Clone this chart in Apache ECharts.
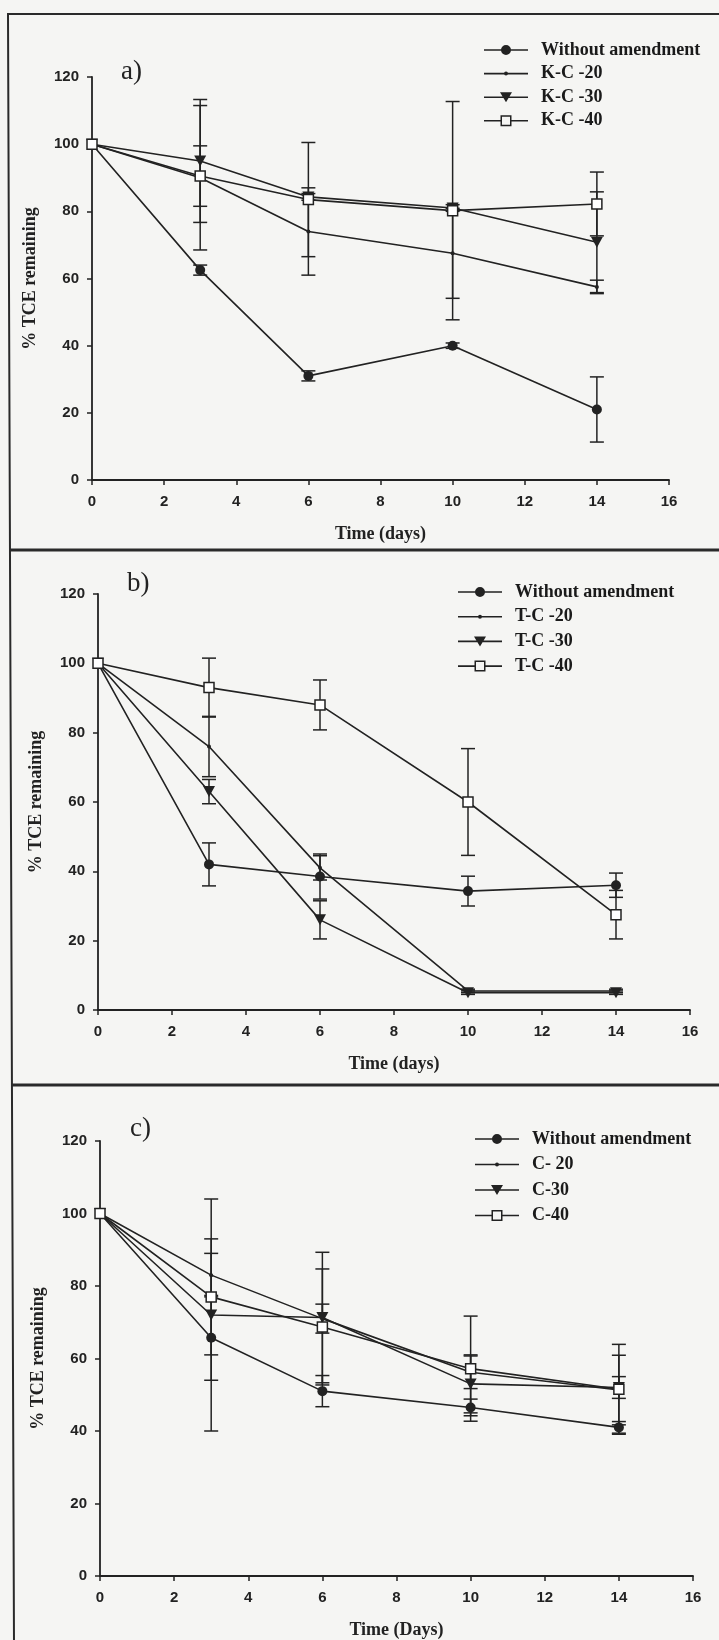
<!DOCTYPE html>
<html>
<head>
<meta charset="utf-8">
<script src="https://cdn.jsdelivr.net/npm/echarts@6/dist/echarts.min.js"></script>
<style>
  html, body { margin: 0; padding: 0; background: #f5f5f3; }
  #main { width: 719px; height: 1640px; }
</style>
</head>
<body>
<div id="main"></div>
<script>
// sampling days (x values)
var days = [0, 3, 6, 10, 14];

// legend names per panel
var namesA = ['Without amendment', 'K-C -20', 'K-C -30', 'K-C -40'];
var namesB = ['Without amendment', 'T-C -20', 'T-C -30', 'T-C -40'];
var namesC = ['Without amendment', 'C- 20', 'C-30', 'C-40'];

// panel a) % TCE remaining and error (+/-)
var aWithout = [100, 62.5, 31, 40, 21];
var aWithoutErr = [0, 1.5, 1.5, 0.8, 9.7];
var aKC20 = [100, 90, 74, 67.5, 57.5];
var aKC20Err = [0, 21.5, 13, 13.4, 2];
var aKC30 = [100, 95, 84.3, 81, 70.8];
var aKC30Err = [0, 18.3, 1, 1, 15];
var aKC40 = [100, 90.5, 83.5, 80.2, 82.2];
var aKC40Err = [0, 9, 17, 32.5, 9.5];

// panel b)
var bWithout = [100, 42, 38.5, 34.3, 36];
var bWithoutErr = [0, 6.2, 6.5, 4.3, 3.5];
var bTC20 = [100, 76, 41, 5.5, 5.5];
var bTC20Err = [0, 8.7, 3.5, 0.5, 0.5];
var bTC30 = [100, 63, 26, 5, 5];
var bTC30Err = [0, 3.5, 5.5, 0.5, 0.5];
var bTC40 = [100, 93, 88, 60, 27.5];
var bTC40Err = [0, 8.5, 7.2, 15.4, 7];

// panel c)
var cWithout = [100, 65.7, 51, 46.5, 41];
var cWithoutErr = [0, 11.7, 4.3, 2.3, 1.6];
var cC20 = [100, 83, 71, 56.2, 51.3];
var cC20Err = [0, 6, 4, 4.5, 9.6];
var cC30 = [100, 72, 71.3, 53, 52];
var cC30Err = [0, 32, 18, 8, 3];
var cC40 = [100, 77, 68.7, 57.2, 51.5];
var cC40Err = [0, 16, 16, 14.5, 12.4];

var xTicks = { min: 0, max: 16, interval: 2 };
var yTicks = { min: 0, max: 120, interval: 20 };

var INK = '#222';
var SERIF = '"Liberation Serif", "DejaVu Serif", serif';
var SANS = '"Liberation Sans", Arial, sans-serif';

// marker looks
var marks = {
  circle: { symbol: 'circle', symbolSize: 10, itemStyle: { color: INK } },
  dot: { symbol: 'circle', symbolSize: 4, itemStyle: { color: INK } },
  tri: { symbol: 'triangle', symbolSize: [12, 11], symbolRotate: 180, itemStyle: { color: INK } },
  square: { symbol: 'rect', symbolSize: 10, itemStyle: { color: '#fff', borderColor: INK, borderWidth: 1.5 } }
};

// legend icons: line + marker in a 44 x 12 box (all paths clockwise)
var box = 'M0 0 L0.01 0 L0 0.01 Z M44 12 L43.99 12 L44 11.99 Z ';
function seg(x1, x2) {
  return 'M' + x1 + ' 5.2 L' + x2 + ' 5.2 L' + x2 + ' 6.8 L' + x1 + ' 6.8 Z ';
}
var icons = {
  circle: 'path://' + box + seg(0, 17.5) + seg(26.5, 44) + 'M17 6 A5 5 0 1 1 27 6 A5 5 0 1 1 17 6 Z',
  dot: 'path://' + box + seg(0, 20.5) + seg(23.5, 44) + 'M20 6 A2 2 0 1 1 24 6 A2 2 0 1 1 20 6 Z',
  tri: 'path://' + box + seg(0, 19.8) + seg(24.2, 44) + 'M16 1 L28 1 L22 11 Z',
  square: 'path://' + box + seg(0, 16.5) + seg(27.5, 44) +
    'M16.5 0.5 L27.5 0.5 L27.5 11.5 L16.5 11.5 Z M18 2 L18 10 L26 10 L26 2 Z'
};
var markOrder = ['circle', 'dot', 'tri', 'square'];

var panels = [
  { names: namesA, vals: [aWithout, aKC20, aKC30, aKC40], errs: [aWithoutErr, aKC20Err, aKC30Err, aKC40Err],
    grid: { left: 92, top: 77, width: 577, height: 403 }, xName: 'Time (days)',
    legend: { left: 484, top: 40, itemGap: 3.6 } },
  { names: namesB, vals: [bWithout, bTC20, bTC30, bTC40], errs: [bWithoutErr, bTC20Err, bTC30Err, bTC40Err],
    grid: { left: 98, top: 594, width: 592, height: 416 }, xName: 'Time (days)',
    legend: { left: 458, top: 582, itemGap: 4.7 } },
  { names: namesC, vals: [cWithout, cC20, cC30, cC40], errs: [cWithoutErr, cC20Err, cC30Err, cC40Err],
    grid: { left: 100, top: 1141, width: 593, height: 435 }, xName: 'Time (Days)',
    legend: { left: 475, top: 1129, itemGap: 5.5 } }
];

function errorBars(idx, vals, errs) {
  var data = [];
  days.forEach(function (d, i) {
    if (errs[i] > 0) data.push([d, vals[i] - errs[i], vals[i] + errs[i]]);
  });
  return {
    type: 'custom',
    xAxisIndex: idx,
    yAxisIndex: idx,
    silent: true,
    z: 1,
    encode: { x: 0, y: [1, 2] },
    renderItem: function (params, api) {
      var lo = api.coord([api.value(0), api.value(1)]);
      var hi = api.coord([api.value(0), api.value(2)]);
      var w = 7;
      var st = { stroke: INK, lineWidth: 1.5 };
      return {
        type: 'group',
        children: [
          { type: 'line', shape: { x1: lo[0], y1: lo[1], x2: hi[0], y2: hi[1] }, style: st },
          { type: 'line', shape: { x1: lo[0] - w, y1: lo[1], x2: lo[0] + w, y2: lo[1] }, style: st },
          { type: 'line', shape: { x1: hi[0] - w, y1: hi[1], x2: hi[0] + w, y2: hi[1] }, style: st }
        ]
      };
    },
    data: data
  };
}

var grids = [], xAxes = [], yAxes = [], legends = [], series = [], graphics = [];

panels.forEach(function (p, idx) {
  grids.push(p.grid);
  xAxes.push({
    type: 'value', gridIndex: idx, min: xTicks.min, max: xTicks.max, interval: xTicks.interval,
    name: p.xName, nameLocation: 'middle', nameGap: 45,
    nameTextStyle: { fontFamily: SERIF, fontSize: 18, fontWeight: 'bold', color: INK },
    axisLine: { show: true, onZero: false, lineStyle: { color: INK, width: 1.8 } },
    axisTick: { show: true, inside: false, length: 5, lineStyle: { color: INK, width: 1.5 } },
    axisLabel: { margin: 14, fontFamily: SANS, fontSize: 15, fontWeight: 'bold', color: INK },
    splitLine: { show: false }
  });
  yAxes.push({
    type: 'value', gridIndex: idx, min: yTicks.min, max: yTicks.max, interval: yTicks.interval,
    name: '% TCE remaining', nameLocation: 'middle', nameGap: 53,
    nameTextStyle: { fontFamily: SERIF, fontSize: 18, fontWeight: 'bold', color: INK },
    axisLine: { show: true, lineStyle: { color: INK, width: 1.8 } },
    axisTick: { show: true, inside: false, length: 5, lineStyle: { color: INK, width: 1.5 } },
    axisLabel: { margin: 13, fontFamily: SANS, fontSize: 15, fontWeight: 'bold', color: INK },
    splitLine: { show: false }
  });
  legends.push({
    orient: 'vertical', left: p.legend.left, top: p.legend.top, padding: 0,
    itemWidth: 44, itemHeight: 12, itemGap: p.legend.itemGap,
    textStyle: { fontFamily: SERIF, fontSize: 18, fontWeight: 'bold', color: '#1a1a1a',
      lineHeight: 20, padding: [0, 0, 0, 8] },
    data: p.names.map(function (n, k) {
      return { name: n, icon: icons[markOrder[k]], itemStyle: { color: INK, borderWidth: 0 } };
    })
  });
  p.vals.forEach(function (v, k) {
    series.push(errorBars(idx, v, p.errs[k]));
  });
  p.vals.forEach(function (v, k) {
    var m = marks[markOrder[k]];
    series.push({
      type: 'line', name: p.names[k], xAxisIndex: idx, yAxisIndex: idx, z: 2,
      symbol: m.symbol, symbolSize: m.symbolSize, symbolRotate: m.symbolRotate || 0,
      itemStyle: m.itemStyle,
      lineStyle: { color: INK, width: 1.6 },
      data: days.map(function (d, i) { return [d, v[i]]; })
    });
  });
});

// panel tags
graphics.push(
  { type: 'text', left: 121, top: 58, style: { text: 'a)', font: '27px ' + SERIF, fill: INK } },
  { type: 'text', left: 127, top: 570, style: { text: 'b)', font: '27px ' + SERIF, fill: INK } },
  { type: 'text', left: 130, top: 1115, style: { text: 'c)', font: '27px ' + SERIF, fill: INK } }
);
// panel frame
graphics.push(
  { type: 'polyline', shape: { points: [[725, 14], [8, 14], [14, 1645]] }, style: { stroke: '#2a2a2a', lineWidth: 2, fill: null } },
  { type: 'line', shape: { x1: 10, y1: 550, x2: 725, y2: 550 }, style: { stroke: '#2a2a2a', lineWidth: 3 } },
  { type: 'line', shape: { x1: 12, y1: 1085, x2: 725, y2: 1085 }, style: { stroke: '#2a2a2a', lineWidth: 3 } }
);

var chart = echarts.init(document.getElementById('main'));
chart.setOption({
  backgroundColor: '#f5f5f3',
  animation: false,
  grid: grids,
  xAxis: xAxes,
  yAxis: yAxes,
  legend: legends,
  graphic: graphics,
  series: series
});
</script>
</body>
</html>
